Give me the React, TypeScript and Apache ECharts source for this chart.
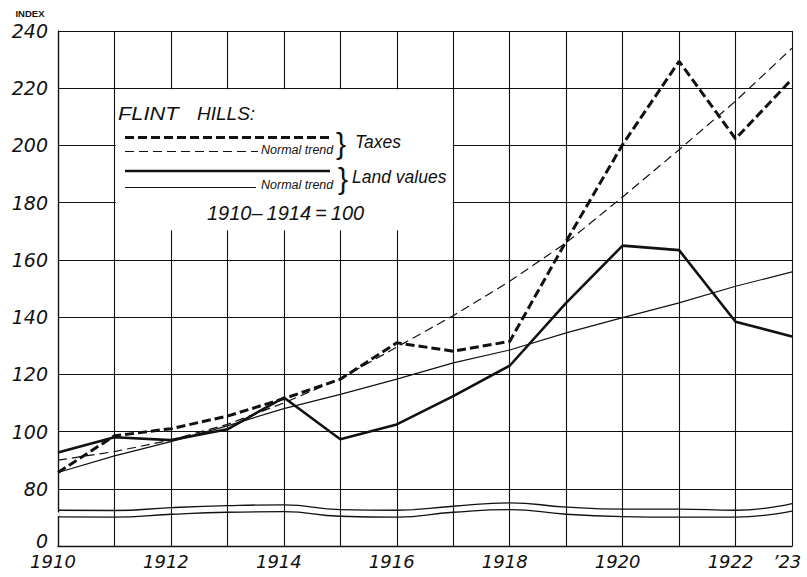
import React, { useEffect, useRef } from "react";
import * as echarts from "echarts";

const years = [1910, 1911, 1912, 1913, 1914, 1915, 1916, 1917, 1918, 1919, 1920, 1921, 1922, 1923];
const taxes = [85.7, 98.5, 101, 105.4, 111.5, 118.3, 131, 128.1, 131.5, 166.5, 200.3, 229.4, 202.3, 223.2];
const taxesTrend = [90, 93, 97, 102.5, 110, 118.5, 129.5, 140.5, 152.5, 166, 182, 198.5, 215.5, 234];
const landValues = [92.7, 98, 97, 100.8, 111.9, 97.3, 102.5, 112.4, 123, 145, 165, 163.4, 138.4, 133.2];
const landTrend = [85.7, 91.5, 96.5, 102, 108, 113, 118.3, 124, 128.5, 134.5, 139.8, 145, 150.8, 155.8];
// axis break (wavy double line) between 0 and 80
const breakUpper = [72.5, 72.4, 73.4, 74.1, 74.4, 72.7, 72.5, 73.9, 75.1, 73.6, 72.9, 72.9, 72.5, 74.8];
const breakLower = [70.2, 70.1, 71.1, 71.8, 72.0, 70.4, 70.1, 71.8, 72.7, 71.1, 70.3, 70.1, 70.1, 72.2];
const yTickValues = [60, 80, 100, 120, 140, 160, 180, 200, 220, 240];
const yTickLabels = ["0", "80", "100", "120", "140", "160", "180", "200", "220", "240"];
const xLabelYears = [1910, 1912, 1914, 1916, 1918, 1920, 1922, 1923];
const xLabelTexts = ["1910", "1912", "1914", "1916", "1918", "1920", "1922", "\u201923"];

const FONT = "Liberation Sans";
const AXIS_FONT = "DejaVu Sans";
const INK = "#111";

const pairs = (vals: number[]) => years.map((y, i) => [y, vals[i]]);

export default function App() {
  const ref = useRef<HTMLDivElement>(null);
  useEffect(() => {
    if (!ref.current) return;
    const chart = echarts.init(ref.current, null, { renderer: "svg" });
    const textItalic = (text: string, x: number, y: number, size: number, extra: any = {}, el: any = {}) => ({
      type: "text",
      z: 20,
      x,
      y,
      ...el,
      style: {
        text,
        fill: INK,
        fontFamily: FONT,
        fontStyle: "italic",
        fontSize: size,
        textVerticalAlign: "middle",
        ...extra,
      },
    });
    const line = (x1: number, x2: number, y: number, w: number, dash: any) => ({
      type: "line",
      z: 20,
      shape: { x1, y1: y, x2, y2: y },
      style: { stroke: INK, lineWidth: w, lineDash: dash },
    });
    chart.setOption({
      animation: false,
      backgroundColor: "#fff",
      grid: { left: 58, right: 15, top: 31, bottom: 31 },
      xAxis: {
        type: "value",
        min: 1910,
        max: 1923,
        interval: 1,
        axisLine: { show: true, lineStyle: { color: INK, width: 1.3 } },
        axisTick: { show: false },
        splitLine: { show: true, lineStyle: { color: INK, width: 1.1 } },
        axisLabel: {
          color: INK,
          fontFamily: AXIS_FONT,
          fontStyle: "italic",
          fontSize: 18,
          margin: 6,
          padding: [0, 10, 0, 0],
          showMaxLabel: true,
          showMinLabel: true,
          formatter: (v: number) => {
            const i = xLabelYears.indexOf(v);
            return i >= 0 ? xLabelTexts[i] : "";
          },
        },
      },
      yAxis: {
        type: "value",
        min: 60,
        max: 240,
        interval: 20,
        axisLine: { show: true, lineStyle: { color: INK, width: 1.3 } },
        axisTick: { show: false },
        splitLine: { show: true, lineStyle: { color: INK, width: 1.1 } },
        axisLabel: {
          color: INK,
          fontFamily: AXIS_FONT,
          fontStyle: "italic",
          fontSize: 19,
          margin: 10,
          formatter: (v: number) => {
            const i = yTickValues.indexOf(v);
            if (i < 0) return "";
            return v === 60 ? "{z|" + yTickLabels[i] + "}" : yTickLabels[i];
          },
          rich: {
            z: {
              fontFamily: AXIS_FONT,
              fontStyle: "italic",
              fontSize: 19,
              color: INK,
              padding: [0, 0, 10, 0],
            },
          },
        },
      },
      series: [
        {
          name: "Break upper",
          type: "line",
          data: pairs(breakUpper),
          smooth: 0.5,
          symbol: "none",
          silent: true,
          z: 3,
          lineStyle: { color: INK, width: 1.3 },
        },
        {
          name: "Break lower",
          type: "line",
          data: pairs(breakLower),
          smooth: 0.5,
          symbol: "none",
          silent: true,
          z: 3,
          lineStyle: { color: INK, width: 1.3 },
        },
        {
          name: "Taxes normal trend",
          type: "line",
          data: pairs(taxesTrend),
          symbol: "none",
          z: 4,
          lineStyle: { color: INK, width: 1.2, type: [9, 5] },
        },
        {
          name: "Land values normal trend",
          type: "line",
          data: pairs(landTrend),
          symbol: "none",
          z: 4,
          lineStyle: { color: INK, width: 1.2 },
        },
        {
          name: "Land values",
          type: "line",
          data: pairs(landValues),
          symbol: "none",
          z: 5,
          lineStyle: { color: INK, width: 2.6 },
        },
        {
          name: "Taxes",
          type: "line",
          data: pairs(taxes),
          symbol: "none",
          z: 6,
          lineStyle: { color: INK, width: 3, type: [9, 4] },
        },
      ],
      graphic: [
        {
          type: "rect",
          z: 10,
          shape: { x: 115.8, y: 89.2, width: 337, height: 141 },
          style: { fill: "#fff" },
        },
        {
          type: "rect",
          z: 10,
          shape: { x: 56, y: 512.5, width: 3.5, height: 3.5 },
          style: { fill: "#fff" },
        },
        {
          type: "text",
          z: 20,
          x: 30,
          y: 13,
          style: {
            text: "INDEX",
            fill: INK,
            fontFamily: FONT,
            fontSize: 9.5,
            fontWeight: "bold",
            textAlign: "center",
            textVerticalAlign: "middle",
          },
        },
        textItalic("FLINT", 118, 113, 19, {}, { scaleX: 1.15 }),
        textItalic("HILLS:", 197, 113, 19),
        line(125, 330, 137.5, 3, [9, 4]),
        line(125, 258, 151.5, 1.2, [9, 5]),
        textItalic("Normal trend", 261, 149.5, 12.5),
        textItalic("}", 336, 143, 30, { fontStyle: "normal", fontWeight: "lighter" }),
        textItalic("Taxes", 355, 141.5, 17.5),
        line(125, 330, 171, 2.6, null),
        line(125, 256, 187.5, 1.2, null),
        textItalic("Normal trend", 261, 184.5, 12.5),
        textItalic("}", 338, 178, 30, { fontStyle: "normal", fontWeight: "lighter" }),
        textItalic("Land values", 352, 176.5, 17.5),
        textItalic("1910\u2013\u20091914\u2009=\u2009100", 207, 213, 20),
      ],
    });
    return () => chart.dispose();
  }, []);
  return (
    <div
      ref={ref}
      style={{ position: "fixed", left: 0, top: 0, width: 807, height: 577, background: "#fff" }}
    />
  );
}
